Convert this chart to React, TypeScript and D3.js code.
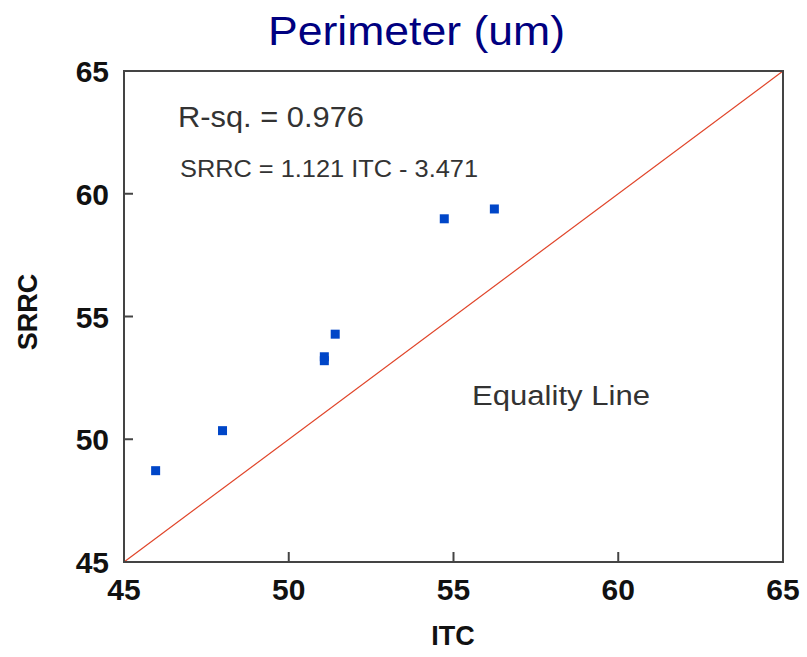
import React from 'react';
import * as d3 from 'd3';

const itc = [45.96, 47.99, 51.08, 51.08, 51.41, 54.72, 56.24];
const srrc = [48.72, 50.35, 53.36, 53.2, 54.28, 58.98, 59.38];
const xTicks = [45, 50, 55, 60, 65];
const yTicks = [45, 50, 55, 60, 65];
const equality = [45, 65];

const W = 807;
const H = 657;
const margin = { left: 124, right: 24, top: 71, bottom: 95 };

export default function App() {
  const x = d3.scaleLinear().domain([45, 65]).range([margin.left, W - margin.right]);
  const y = d3.scaleLinear().domain([45, 65]).range([H - margin.bottom, margin.top]);
  const [x0, x1] = x.range();
  const [y0, y1] = y.range();
  const font = 'Arial, "Liberation Sans", sans-serif';
  const eqLine = d3.line<number>().x(d => x(d)).y(d => y(d))(equality) || '';

  return (
    <svg width={W} height={H} style={{ position: 'absolute', left: 0, top: 0, background: '#fff' }}
      fontFamily={font}>
      <text x={268} y={45} fontSize={40} fill="#000080" textLength={297} lengthAdjust="spacingAndGlyphs">
        Perimeter (um)
      </text>

      {/* equality line */}
      <path d={eqLine} stroke="#e0452a" strokeWidth={1.2} fill="none" />

      {/* points */}
      {itc.map((v, i) => (
        <rect key={i} x={x(v) - 4.5} y={y(srrc[i]) - 4.5} width={9} height={9} fill="#0046c8" />
      ))}

      {/* frame */}
      <rect x={x0} y={y1} width={x1 - x0} height={y0 - y1} fill="none" stroke="#444" strokeWidth={2} />

      {/* ticks */}
      {xTicks.map(t => (
        <g key={'x' + t}>
          <line x1={x(t)} x2={x(t)} y1={y0} y2={y0 - 10} stroke="#444" strokeWidth={2} />
          <text x={x(t)} y={600} textAnchor="middle" fontSize={30} fontWeight="bold" fill="#111">{t}</text>
        </g>
      ))}
      {yTicks.map(t => (
        <g key={'y' + t}>
          <line x1={x0} x2={x0 + 9} y1={y(t)} y2={y(t)} stroke="#444" strokeWidth={2} />
          <text x={109} y={y(t) + 11} textAnchor="end" fontSize={30} fontWeight="bold" fill="#111">{t}</text>
        </g>
      ))}

      <text x={453} y={645} textAnchor="middle" fontSize={27} fontWeight="bold" fill="#111">ITC</text>
      <text transform={`translate(37,312) rotate(-90)`} textAnchor="middle"
        fontSize={27} fontWeight="bold" fill="#111">SRRC</text>

      <text x={178} y={127} fontSize={29} fill="#333" textLength={186} lengthAdjust="spacingAndGlyphs">R-sq. = 0.976</text>
      <text x={180} y={177} fontSize={24} fill="#333" textLength={298} lengthAdjust="spacingAndGlyphs">SRRC = 1.121 ITC - 3.471</text>
      <text x={472} y={405} fontSize={27} fill="#333" textLength={178} lengthAdjust="spacingAndGlyphs">Equality Line</text>
    </svg>
  );
}
